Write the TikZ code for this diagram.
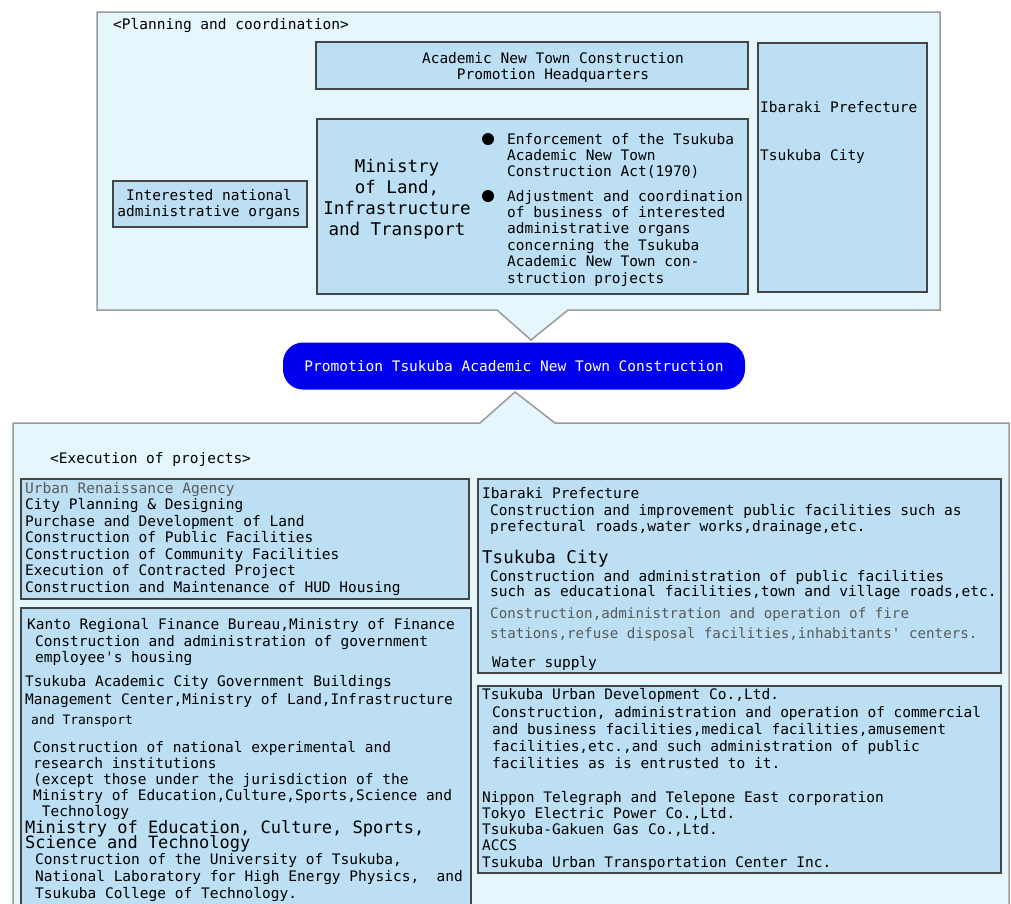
\documentclass[tikz,border=0pt]{standalone}
\usepackage{fontspec}
\newfontfamily\mono{DejaVu Sans Mono}
\definecolor{panelfill}{HTML}{E6F6FD}
\definecolor{panelline}{HTML}{9A9A9A}
\definecolor{boxfill}{HTML}{BCDFF3}
\definecolor{boxline}{HTML}{454545}
\definecolor{pillblue}{HTML}{0000EE}
\definecolor{greytext}{HTML}{5A5A5A}
\newcommand\fsz[2]{\fontsize{#1}{#2}\selectfont\lineskiplimit=-20pt\relax}
\begin{document}
% multi-line text nodes are placed by the baseline of their LAST line
\begin{tikzpicture}[x=1pt,y=-1pt,
  panel/.style={fill=panelfill,draw=panelline,line width=1.5pt},
  box/.style={draw=boxline,fill=boxfill,line width=1.8pt,inner sep=0,anchor=north west},
  txt/.style={anchor=base west,inner sep=0,align=left,font=\mono\fsz{14.5}{16.4}},
  ctxt/.style={anchor=base,inner sep=0,align=center,font=\mono\fsz{14.5}{16.4}},
  bullet/.style={circle,fill=black,minimum size=12pt,inner sep=0},
  pill/.style={fill=pillblue,rounded corners=20pt,minimum width=462pt,minimum height=47pt,
    text=white,font=\mono\fsz{14.5}{16.4},inner sep=0}
]
\useasboundingbox (0,0) rectangle (1011,903);
\clip (0,0) rectangle (1011,903);
\fill[white] (0,0) rectangle (1011,903);

% ---------- top panel ----------
\path[panel] (497,310) -- (97,310) -- (97,12) -- (940,12) -- (940,310) -- (568,310) -- (531,340) -- cycle;
\node[txt] (plantitle) at (113,29) {<Planning and coordination>};

\node[box,minimum width=432pt,minimum height=47pt] (hq) at (315,41) {};
\node[ctxt,font=\mono\fsz{14.5}{16}] (hqtext) at (553,79)
  {Academic New Town Construction\\Promotion Headquarters};

\node[box,minimum width=169pt,minimum height=249pt] (pref) at (757,42) {};
\node[txt] (preftext) at (760,112) {Ibaraki Prefecture};
\node[txt] (citytext) at (760,160) {Tsukuba City};

\node[box,minimum width=431pt,minimum height=175pt] (mlit) at (316,118) {};
\node[ctxt,font=\mono\fsz{17.5}{21.3}] (mlittext) at (397,235.9)
  {Ministry\\of Land,\\Infrastructure\\and Transport};
\node[bullet] (b1) at (488,139) {};
\node[bullet] (b2) at (488,196) {};
\node[txt] (b1text) at (507,176.8)
  {Enforcement of the Tsukuba\\Academic New Town\\Construction Act(1970)};
\node[txt] (b2text) at (507,283)
  {Adjustment and coordination\\of business of interested\\administrative organs\\concerning the Tsukuba\\Academic New Town con-\\struction projects};

\node[box,minimum width=194pt,minimum height=46pt] (organs) at (112,180) {};
\node[ctxt,font=\mono\fsz{14.5}{16}] (organstext) at (209,216)
  {Interested national\\administrative organs};

% ---------- pill ----------
\node[pill] (pill) at (514,366) {Promotion Tsukuba Academic New Town Construction};

% ---------- bottom panel ----------
\fill[panelfill] (13,423) -- (480,423) -- (515,392) -- (555,423) -- (1009,423) -- (1009,910) -- (13,910) -- cycle;
\draw[panelline,line width=1.5pt] (13,910) -- (13,423) -- (480,423) -- (515,392) -- (555,423) -- (1009,423) -- (1009,910);
\node[txt] (exectitle) at (50,463) {<Execution of projects>};

% left top box
\node[box,minimum width=448pt,minimum height=120pt] (ur) at (20,478) {};
\node[txt,font=\mono\fsz{14.5}{16.5}] (urtext) at (25,592)
  {{\color{greytext}Urban Renaissance Agency}\\City Planning \& Designing\\Purchase and Development of Land\\Construction of Public Facilities\\Construction of Community Facilities\\Execution of Contracted Project\\Construction and Maintenance of HUD Housing};

% left bottom box
\node[box,minimum width=450pt,minimum height=305pt] (gov) at (20,607) {};
\node[txt] (kanto) at (27,629) {Kanto Regional Finance Bureau,Ministry of Finance};
\node[txt,font=\mono\fsz{14.5}{16}] (kantotext) at (35,662)
  {Construction and administration of government\\employee's housing};
\node[txt,font=\mono\fsz{14.5}{18}] (tacg) at (25,704)
  {Tsukuba Academic City Government Buildings\\Management Center,Ministry of Land,Infrastructure};
\node[txt,font=\mono\fsz{13}{16}] (tacg2) at (31,724) {and Transport};
\node[txt,font=\mono\fsz{14.5}{16}] (tacgtext) at (33,816)
  {Construction of national experimental and\\research institutions\\(except those under the jurisdiction of the\\Ministry of Education,Culture,Sports,Science and\\\ Technology};
\node[txt,font=\mono\fsz{17}{15.5}] (mext) at (25,848.5)
  {Ministry of Education, Culture, Sports,\\Science and Technology};
\node[txt,font=\mono\fsz{14.5}{17}] (mexttext) at (35,898)
  {Construction of the University of Tsukuba,\\National Laboratory for High Energy Physics,~ and\\Tsukuba College of Technology.};

% right top box
\node[box,minimum width=523pt,minimum height=194pt] (local) at (477,478) {};
\node[txt] (ibaraki) at (482,498) {Ibaraki Prefecture};
\node[txt,font=\mono\fsz{14.5}{16}] (ibarakitext) at (490,531)
  {Construction and improvement public facilities such as\\prefectural roads,water works,drainage,etc.};
\node[txt,font=\mono\fsz{17.5}{16}] (tsukuba) at (482,563) {Tsukuba City};
\node[txt,font=\mono\fsz{14.5}{15}] (tsukubatext) at (490,596)
  {Construction and administration of public facilities\\such as educational facilities,town and village roads,etc.};
\node[txt,font=\mono\fsz{14.2}{20},text=greytext] (firetext) at (490,638)
  {Construction,administration and operation of fire\\stations,refuse disposal facilities,inhabitants' centers.};
\node[txt] (water) at (492,667) {Water supply};

% right bottom box
\node[box,minimum width=523pt,minimum height=187pt] (corp) at (477,685) {};
\node[txt] (tud) at (482,699) {Tsukuba Urban Development Co.,Ltd.};
\node[txt,font=\mono\fsz{14.5}{17}] (tudtext) at (492,768)
  {Construction, administration and operation of commercial\\and business facilities,medical facilities,amusement\\facilities,etc.,and such administration of public\\facilities as is entrusted to it.};
\node[txt,font=\mono\fsz{14.5}{16.3}] (utilities) at (482,867.2)
  {Nippon Telegraph and Telepone East corporation\\Tokyo Electric Power Co.,Ltd.\\Tsukuba-Gakuen Gas Co.,Ltd.\\ACCS\\Tsukuba Urban Transportation Center Inc.};
\end{tikzpicture}
\end{document}
